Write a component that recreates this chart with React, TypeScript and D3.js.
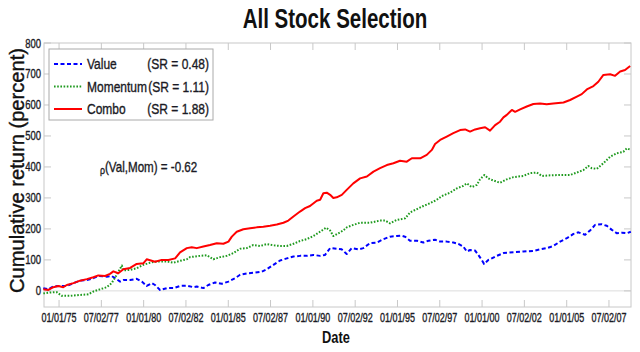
import * as d3 from "d3";
import type { ReactNode, SVGProps } from "react";

// cumulative returns (percent): [decimal year, value]
const valueSeries: [number, number][] = [
  [1974.07, 9], [1974.37, 5], [1974.66, 14], [1975.06, 16], [1975.46, 16], [1975.85, 25],
  [1976.24, 33], [1976.64, 35], [1977.03, 41], [1977.32, 48], [1977.82, 46], [1978.11, 48],
  [1978.31, 41], [1978.61, 30], [1978.8, 35], [1979.2, 35], [1979.59, 39], [1979.89, 30],
  [1980.18, 16], [1980.48, 25], [1980.67, 19], [1980.97, 3], [1981.37, 9], [1981.76, 9],
  [1982.15, 16], [1982.55, 17], [1982.94, 12], [1983.14, 14], [1983.53, 9], [1983.82, 19],
  [1984.22, 27], [1984.62, 23], [1985.01, 30], [1985.4, 41], [1985.7, 52], [1986.19, 57],
  [1986.58, 59], [1986.98, 62], [1987.28, 70], [1987.67, 84], [1988.06, 98], [1988.46, 105],
  [1988.85, 111], [1989.24, 113], [1989.64, 113], [1990.03, 116], [1990.43, 113], [1990.72, 116],
  [1991.02, 138], [1991.41, 136], [1991.71, 134], [1992.0, 119], [1992.3, 138], [1992.69, 134],
  [1992.98, 138], [1993.38, 154], [1993.78, 156], [1994.17, 167], [1994.56, 175], [1994.96, 177],
  [1995.25, 178], [1995.45, 175], [1995.74, 162], [1996.14, 162], [1996.53, 156], [1996.83, 162],
  [1997.22, 165], [1997.52, 159], [1997.91, 159], [1998.3, 156], [1998.6, 152], [1998.89, 143],
  [1999.1, 127], [1999.29, 132], [1999.59, 130], [1999.78, 116], [1999.98, 100], [2000.12, 87],
  [2000.37, 100], [2000.47, 102], [2000.87, 113], [2001.26, 122], [2001.85, 125], [2002.44, 127],
  [2003.03, 129], [2003.43, 134], [2003.82, 138], [2004.21, 145], [2004.61, 159], [2005.01, 170],
  [2005.4, 184], [2005.69, 189], [2006.09, 181], [2006.38, 195], [2006.68, 213], [2007.07, 215],
  [2007.37, 210], [2007.67, 197], [2007.96, 186], [2008.26, 188], [2008.55, 186], [2008.79, 191],
];

const momentumSeries: [number, number][] = [
  [1974.07, -8], [1974.47, -5], [1974.86, -4], [1975.16, -16], [1975.65, -16], [1976.24, -13],
  [1976.73, -11], [1977.03, -2], [1977.42, 5], [1977.82, 12], [1978.11, 25], [1978.41, 52],
  [1978.71, 82], [1978.8, 66], [1979.2, 68], [1979.59, 73], [1979.98, 84], [1980.38, 91],
  [1980.77, 95], [1981.37, 95], [1981.76, 91], [1982.15, 97], [1982.55, 102], [1982.74, 109],
  [1983.33, 113], [1983.73, 115], [1984.12, 102], [1984.52, 109], [1984.91, 113], [1985.3, 122],
  [1985.7, 136], [1986.09, 138], [1986.48, 148], [1986.88, 145], [1987.28, 151], [1987.67, 147],
  [1988.06, 145], [1988.46, 145], [1988.85, 152], [1989.24, 161], [1989.64, 167], [1990.03, 177],
  [1990.43, 191], [1990.78, 204], [1991.02, 195], [1991.21, 177], [1991.51, 186], [1991.8, 195],
  [1992.0, 205], [1992.39, 213], [1992.79, 220], [1993.38, 220], [1993.97, 227], [1994.27, 227],
  [1994.56, 218], [1994.96, 229], [1995.45, 234], [1995.74, 253], [1996.04, 261], [1996.53, 274],
  [1996.93, 283], [1997.32, 294], [1997.62, 306], [1998.11, 317], [1998.51, 331], [1998.89, 339],
  [1999.1, 347], [1999.39, 335], [1999.69, 342], [1999.88, 360], [2000.14, 374], [2000.37, 363],
  [2000.47, 360], [2001.06, 349], [2001.46, 360], [2001.85, 367], [2002.44, 371], [2002.84, 380],
  [2003.23, 382], [2003.53, 371], [2004.02, 373], [2004.61, 374], [2005.2, 374], [2005.6, 382],
  [2005.99, 390], [2006.28, 403], [2006.48, 396], [2006.78, 394], [2007.17, 412], [2007.57, 433],
  [2007.96, 444], [2008.35, 449], [2008.55, 460], [2008.79, 455],
];

const comboSeries: [number, number][] = [
  [1974.07, 5], [1974.37, 3], [1974.66, 12], [1974.96, 16], [1975.25, 12], [1975.46, 19],
  [1975.85, 25], [1976.24, 33], [1976.64, 38], [1977.03, 44], [1977.32, 50], [1977.72, 48],
  [1978.01, 55], [1978.21, 63], [1978.5, 57], [1978.8, 70], [1979.2, 74], [1979.59, 87],
  [1979.98, 89], [1980.18, 102], [1980.67, 94], [1981.07, 100], [1981.46, 100], [1981.86, 105],
  [1982.15, 124], [1982.55, 138], [1982.84, 141], [1983.14, 138], [1983.53, 143], [1983.92, 148],
  [1984.32, 154], [1984.71, 152], [1985.01, 159], [1985.21, 175], [1985.5, 191], [1985.89, 199],
  [1986.29, 202], [1986.68, 205], [1987.07, 207], [1987.47, 210], [1987.87, 214], [1988.26, 220],
  [1988.55, 227], [1988.85, 240], [1989.24, 256], [1989.54, 267], [1989.83, 274], [1990.23, 291],
  [1990.43, 294], [1990.62, 315], [1990.82, 317], [1991.02, 310], [1991.21, 300], [1991.41, 302],
  [1991.71, 310], [1992.0, 326], [1992.39, 347], [1992.79, 363], [1993.19, 369], [1993.58, 385],
  [1993.97, 396], [1994.37, 406], [1994.76, 412], [1995.15, 420], [1995.55, 417], [1995.85, 428],
  [1996.34, 428], [1996.73, 439], [1997.03, 455], [1997.22, 474], [1997.52, 487], [1997.91, 498],
  [1998.3, 509], [1998.7, 519], [1999.0, 521], [1999.29, 514], [1999.59, 521], [1999.88, 525],
  [2000.18, 528], [2000.47, 517], [2000.77, 535], [2001.06, 546], [2001.26, 560], [2001.46, 568],
  [2001.76, 584], [2001.95, 578], [2002.25, 586], [2002.64, 595], [2003.03, 603], [2003.43, 605],
  [2003.82, 602], [2004.21, 605], [2004.81, 608], [2005.2, 616], [2005.6, 627], [2005.89, 635],
  [2006.19, 650], [2006.58, 661], [2006.87, 675], [2007.17, 697], [2007.57, 699], [2007.86, 694],
  [2008.16, 708], [2008.45, 713], [2008.75, 726],
];

const seriesNames = ["Value", "Momentum", "Combo"];
const sharpeLabels = ["(SR = 0.48)", "(SR = 1.11)", "(SR = 1.88)"];
const xTickDates = [
  "1975-01-01", "1977-07-02", "1980-01-01", "1982-07-02", "1985-01-01", "1987-07-02",
  "1990-01-01", "1992-07-02", "1995-01-01", "1997-07-02", "2000-01-01", "2002-07-02",
  "2005-01-01", "2007-07-02",
];
const yTicks = [0, 100, 200, 300, 400, 500, 600, 700, 800];

const W = 640;
const H = 352;
const margin = { top: 43, right: 9, bottom: 45, left: 44 };
const FONT = "'Liberation Sans', Arial, Helvetica, sans-serif";

const yearToDate = (y: number) => {
  const yr = Math.floor(y);
  const start = Date.UTC(yr, 0, 1);
  const end = Date.UTC(yr + 1, 0, 1);
  return new Date(start + (y - yr) * (end - start));
};
const parse = d3.utcParse("%Y-%m-%d");
const fmt = d3.utcFormat("%m/%d/%y");

// horizontally squeezed text, to imitate the narrow font of the original
type NProps = { x: number; y: number; sx?: number; children: ReactNode } & SVGProps<SVGTextElement>;
const NText = ({ x, y, sx = 0.8, children, ...rest }: NProps) => (
  <text transform={`translate(${x},${y}) scale(${sx},1)`} {...rest}>
    {children}
  </text>
);

export default function App() {
  const x = d3
    .scaleUtc()
    .domain([yearToDate(1974.11), yearToDate(2008.8)])
    .range([margin.left, W - margin.right]);
  const y = d3.scaleLinear().domain([-52, 800]).range([H - margin.bottom, margin.top]);

  const lineGen = d3
    .line<[number, number]>()
    .x((d) => x(yearToDate(d[0])))
    .y((d) => y(d[1]));

  const styles = [
    { data: valueSeries, color: "#0000ff", dash: "4,2.5", width: 2 },
    { data: momentumSeries, color: "#1e9a1e", dash: "1.6,1.6", width: 2 },
    { data: comboSeries, color: "#ff0000", dash: "none", width: 2 },
  ];

  const x0 = margin.left;
  const x1 = W - margin.right;
  const y0 = margin.top;
  const y1 = H - margin.bottom;
  const frame = "#c8c8c8";
  const tickLen = 7;
  const ink = "#1a1a24";
  // a thin outline in the text colour makes the labels as heavy as the original's
  const heavy = { stroke: ink, strokeWidth: 0.35 };

  return (
    <svg
      width={W}
      height={H}
      style={{ position: "absolute", left: 0, top: 0, background: "#fff" }}
      fontFamily={FONT}
    >
      <NText x={335} y={28} sx={0.76} textAnchor="middle" fontSize={27} fontWeight="bold" fill="#111">
        All Stock Selection
      </NText>

      {/* zero line */}
      <line x1={x0} x2={x1} y1={y(0)} y2={y(0)} stroke="#dcdcdc" />

      {/* inward ticks */}
      {xTickDates.map((d) => {
        const px = x(parse(d)!);
        return (
          <g key={d} stroke={frame}>
            <line x1={px} x2={px} y1={y1} y2={y1 - tickLen} />
            <line x1={px} x2={px} y1={y0} y2={y0 + tickLen} />
          </g>
        );
      })}
      {yTicks.map((t) => (
        <g key={t} stroke={frame}>
          <line x1={x0} x2={x0 + tickLen} y1={y(t)} y2={y(t)} />
          <line x1={x1} x2={x1 - tickLen} y1={y(t)} y2={y(t)} />
        </g>
      ))}

      <rect x={x0} y={y0} width={x1 - x0} height={y1 - y0} fill="none" stroke={frame} />

      {/* series */}
      {styles.map((s, i) => (
        <path
          key={i}
          d={lineGen(s.data) ?? ""}
          fill="none"
          stroke={s.color}
          strokeWidth={s.width}
          strokeDasharray={s.dash}
          strokeLinejoin="round"
        />
      ))}

      {/* tick labels */}
      {xTickDates.map((d) => (
        <NText key={d} x={x(parse(d)!)} y={322} sx={0.72} textAnchor="middle" fontSize={12.5} fill={ink} {...heavy}>
          {fmt(parse(d)!)}
        </NText>
      ))}
      {yTicks.map((t) => (
        <NText key={t} x={41} y={y(t) + 4.5} sx={0.76} textAnchor="end" fontSize={12.5} fill={ink} {...heavy}>
          {t}
        </NText>
      ))}

      {/* axis titles */}
      <NText x={336} y={343} sx={0.78} textAnchor="middle" fontSize={16.5} fontWeight="bold" fill="#111">
        Date
      </NText>
      <text
        transform={`translate(24, 170.5) rotate(-90)`}
        textAnchor="middle"
        fontSize={20}
        fill="#111"
        stroke="#111"
        strokeWidth={0.4}
        textLength={245}
        lengthAdjust="spacingAndGlyphs"
      >
        Cumulative return (percent)
      </text>

      {/* legend */}
      <rect x={49} y={49} width={164} height={71} fill="#fff" stroke="#aaa" />
      {styles.map((s, i) => {
        const ry = 64 + i * 22.5;
        return (
          <g key={i}>
            <line
              x1={54}
              x2={82}
              y1={ry}
              y2={ry}
              stroke={s.color}
              strokeWidth={2}
              strokeDasharray={s.dash}
            />
            <NText x={87} y={ry + 5} sx={0.8} fontSize={15} fill={ink} {...heavy}>
              {seriesNames[i]}
            </NText>
            <NText x={209} y={ry + 5} sx={0.8} fontSize={15} fill={ink} textAnchor="end" {...heavy}>
              {sharpeLabels[i]}
            </NText>
          </g>
        );
      })}

      {/* correlation note */}
      <NText x={100} y={172} sx={0.8} fontSize={14.5} fill={ink} {...heavy}>
        <tspan fontSize={11} dy={2}>ρ</tspan>
        <tspan dy={-2}>(Val,Mom) = -0.62</tspan>
      </NText>
    </svg>
  );
}
